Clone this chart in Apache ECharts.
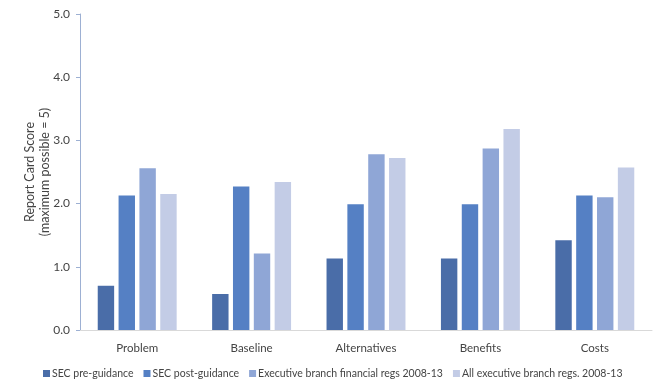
<!DOCTYPE html>
<html><head><meta charset="utf-8">
<script src="https://cdn.jsdelivr.net/npm/echarts@6/dist/echarts.min.js"></script>
<style>html,body{margin:0;padding:0;background:#fff}#c{width:664px;height:391px}</style>
</head><body><div id="c"></div>
<script>
const categories = ['Problem', 'Baseline', 'Alternatives', 'Benefits', 'Costs'];
const secPre = [0.70, 0.57, 1.13, 1.13, 1.42];
const secPost = [2.13, 2.27, 1.99, 1.99, 2.13];
const execFin = [2.56, 1.21, 2.78, 2.87, 2.10];
const execAll = [2.15, 2.34, 2.72, 3.18, 2.57];
const seriesNames = ['SEC pre-guidance', 'SEC post-guidance', 'Executive branch financial regs 2008-13', 'All executive branch regs. 2008-13'];
const colors = ['#4A6DA8', '#5580C4', '#8FA6D6', '#C3CCE6'];
const font = 'Lato';
const chart = echarts.init(document.getElementById('c'));
const data = [secPre, secPost, execFin, execAll];
chart.setOption({
  animation: false,
  textStyle: {fontFamily: font},
  grid: {left: 80, right: 12, top: 14, bottom: 61},
  legend: {
    bottom: 7, left: 38, itemWidth: 7, itemHeight: 7, itemGap: 10, icon: 'rect',
    textStyle: {fontSize: 10.5, color: '#444', fontFamily: font, padding: [0, 0, 0, -3]},
    data: seriesNames
  },
  xAxis: {
    type: 'category', data: categories,
    axisLine: {lineStyle: {color: '#D9D9D9'}},
    axisTick: {show: false},
    axisLabel: {color: '#444', fontSize: 11.5, margin: 12, fontFamily: font}
  },
  yAxis: {
    type: 'value', min: 0, max: 5, interval: 1,
    name: 'Report Card Score\n(maximum possible = 5)',
    nameLocation: 'middle', nameGap: 28, nameRotate: 90, nameMoveOverlap: false,
    nameTextStyle: {color: '#444', fontSize: 12.5, lineHeight: 15, fontFamily: font},
    axisLine: {show: true, lineStyle: {color: '#9DB0D3'}},
    axisTick: {show: true, length: 4, lineStyle: {color: '#9DB0D3'}},
    splitLine: {show: false},
    axisLabel: {color: '#444', fontSize: 12, margin: 10, formatter: v => v.toFixed(1), fontFamily: font}
  },
  series: data.map((d, i) => ({
    name: seriesNames[i], type: 'bar', data: d,
    itemStyle: {color: colors[i]},
    barGap: '27%', barCategoryGap: '31%'
  }))
});
</script></body></html>
